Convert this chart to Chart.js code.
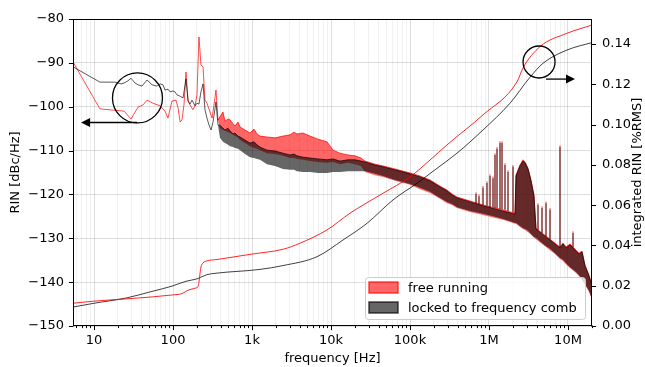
<!DOCTYPE html>
<html>
<head>
<meta charset="utf-8">
<script src="https://cdn.jsdelivr.net/npm/chart.js@4.4.1/dist/chart.umd.min.js"></script>
<style>
  html, body { margin: 0; padding: 0; background: #fff; }
  #c { display: block; }
</style>
</head>
<body>
<canvas id="c" width="645" height="367"></canvas>
<script>
// ---------- data ----------
// free running spectrum (upper / lower edge of the noisy trace; lower = upper where the trace is a single line)
const redF = [5.42, 11.9, 24.0, 29.4, 36.1, 41.7, 46.9, 55.8, 68.5, 79.2, 86.4, 97.1, 109, 116, 123, 130, 138, 146, 155, 164, 179, 190, 201, 213, 226, 240, 254, 269, 294, 312, 330, 350, 371,
  393, 429, 455, 497, 527, 575, 609, 665, 705, 815, 943, 1060, 1157, 1263, 1548, 1955, 2469, 3027, 3401, 3712, 4422, 5423, 6845, 8900, 10600, 13000, 16420, 20130, 23970, 26940, 36060, 45520, 64570, 100000, 133800, 179200, 239700, 294000, 340100, 393400, 574800, 839800, 1.191e6, 1.504e6, 1.845e6, 2.134e6, 2.197e6, 2.468e6, 2.694e6, 2.856e6, 3.116e6, 3.401e6, 3.712e6, 3.934e6, 4.688e6, 5.268e6, 5.920e6, 6.845e6, 7.920e6, 8.644e6, 9.434e6, 1.060e7, 1.263e7, 1.378e7, 1.504e7, 1.641e7, 1.845e7, 2.013e7];
const redHi = [-89.8, -100.5, -101.0, -102.8, -100.1, -99.6, -98.5, -99.2, -99.8, -101.0, -102.6, -98.7, -98.5, -100.3, -103.5, -103.0, -99.4, -92.1, -98.5, -99.6, -100.7, -99.8, -97.3, -84.1, -90.5, -90.9, -98.5, -99.2, -101.2, -102.6, -99.6, -96.2, -103.0,
  -102.3, -101.2, -103.3, -102.8, -103.0, -103.9, -104.4, -103.5, -104.6, -105.3, -106.0, -105.1, -106.2, -106.7, -106.9, -107.1, -106.7, -106.4, -105.8, -106.2, -106.0, -106.7, -107.4, -108.0, -109.9, -110.6, -111.0, -111.2, -111.7, -112.4, -113.1, -113.5, -114.2, -115.1, -115.8, -116.7, -118.1, -119.0, -119.9, -120.6, -121.5, -122.4, -123.1, -123.5, -124.0, -124.2, -115.6, -113.3, -112.1, -112.6, -114.0, -116.7, -120.1, -127.7, -128.8, -129.5, -130.2, -131.1, -132.0, -131.1, -132.0, -131.3, -132.7, -133.4, -132.9, -136.1, -138.4, -140.6];
const redLo = [null, null, null, null, null, null, null, null, null, null, null, null, null, null, null, null, null, null, null, null, null, null, null, null, null, null, null, null, null, null, null, null, null,
  -104.9, -105.3, -105.5, -105.8, -106.0, -106.4, -106.7, -107.1, -107.6, -108.3, -109.0, -109.4, -109.6, -109.9, -110.6, -110.8, -111.2, -111.7, -111.7, -111.9, -112.1, -112.4, -112.6, -112.8, -112.6, -113.1, -112.8, -113.1, -113.5, -114.9, -115.6, -116.0, -116.9, -117.8, -118.8, -119.7, -121.0, -122.0, -122.4, -123.1, -124.0, -124.7, -125.4, -125.8, -126.3, -126.7, -126.7, -127.4, -127.9, -128.1, -128.6, -129.2, -129.9, -130.2, -131.3, -132.0, -132.7, -133.6, -134.7, -135.2, -135.9, -136.8, -137.9, -138.6, -139.5, -140.6, -142.2, -144.1];

// locked to frequency comb spectrum
const blackF = [5.42, 11.9, 18.4, 22.0, 24.0, 26.9, 29.4, 33.0, 36.1, 40.5, 46.9, 54.2, 62.7, 68.5, 74.7, 79.2, 86.4, 91.6, 100, 106, 112, 123, 134, 146, 155, 164, 174, 190, 201, 213, 226, 240, 254, 269, 286, 303, 321, 350, 371,
  393, 429, 455, 497, 527, 575, 609, 665, 705, 815, 943, 1060, 1157, 1263, 1548, 1955, 2469, 3027, 3401, 3712, 4422, 5423, 6845, 8900, 10600, 13000, 16420, 20130, 23970, 26940, 36060, 45520, 64570, 100000, 133800, 179200, 239700, 294000, 340100, 393400, 574800, 839800, 1.191e6, 1.504e6, 1.845e6, 2.134e6, 2.197e6, 2.468e6, 2.694e6, 2.856e6, 3.116e6, 3.401e6, 3.712e6, 3.934e6, 4.688e6, 5.268e6, 5.920e6, 6.845e6, 7.920e6, 8.644e6, 9.434e6, 1.060e7, 1.263e7, 1.378e7, 1.504e7, 1.641e7, 1.845e7, 2.013e7];
const blackHi = [-90.9, -94.4, -94.4, -94.8, -94.6, -94.1, -93.5, -94.6, -95.0, -95.3, -93.9, -95.0, -95.3, -94.8, -95.0, -96.2, -96.0, -96.6, -96.4, -96.6, -97.3, -97.6, -98.0, -93.7, -98.7, -99.4, -98.5, -99.8, -99.2, -99.4, -96.6, -94.8, -100.7, -102.6, -104.2, -105.3, -103.5, -98.9, -104.2,
  -104.2, -104.9, -105.3, -104.9, -105.5, -106.2, -106.0, -106.7, -106.9, -107.6, -108.3, -108.0, -108.7, -109.2, -109.9, -110.1, -110.6, -111.0, -110.8, -111.2, -111.5, -111.7, -111.9, -112.1, -111.9, -112.4, -112.1, -112.1, -112.4, -112.6, -113.3, -113.7, -114.4, -115.3, -116.0, -116.9, -118.3, -119.2, -120.1, -120.8, -121.7, -122.6, -123.3, -123.8, -124.2, -124.5, -115.8, -113.5, -112.4, -112.8, -114.2, -116.9, -120.4, -127.9, -129.0, -129.7, -130.4, -131.3, -132.2, -131.3, -132.2, -131.5, -132.9, -133.6, -133.1, -136.3, -138.6, -140.9];
const blackLo = [null, null, null, null, null, null, null, null, null, null, null, null, null, null, null, null, null, null, null, null, null, null, null, null, null, null, null, null, null, null, null, null, null, null, null, null, null, null, null,
  -107.1, -108.0, -108.3, -108.7, -109.0, -109.2, -109.4, -109.6, -109.9, -110.8, -111.5, -111.7, -111.9, -112.1, -113.1, -113.5, -114.2, -114.4, -114.4, -114.7, -114.9, -114.9, -115.1, -115.1, -114.9, -114.9, -114.7, -114.7, -114.7, -114.7, -115.3, -115.8, -116.7, -117.6, -118.5, -119.4, -120.8, -121.7, -122.2, -122.9, -123.8, -124.4, -125.1, -125.6, -126.1, -126.5, -126.5, -127.2, -127.7, -127.9, -128.3, -129.0, -129.7, -129.9, -131.1, -131.8, -132.4, -133.4, -134.5, -134.9, -135.7, -136.6, -137.7, -138.4, -139.3, -140.4, -142.0, -143.8];

// narrow spurs in the MHz range
const spikeF = [6.845e5, 7.47e5, 8.398e5, 9.435e5, 1.030e6, 1.124e6, 1.191e6, 1.263e6, 1.378e6, 1.461e6, 1.594e6, 1.740e6, 2.013e6, 4.172e6, 4.688e6, 5.268e6, 5.920e6, 7.920e6, 1.157e7];
const spikeBase = [-122.0, -122.2, -122.4, -122.6, -122.9, -122.9, -123.1, -123.1, -123.3, -123.3, -123.5, -123.8, -124.0, -128.1, -128.8, -129.5, -130.2, -132.0, -132.0];
const redSpike = [-119.5, -120.0, -118.1, -117.0, -115.4, -115.9, -110.6, -109.2, -107.9, -107.9, -112.9, -114.5, -113.3, -122.0, -122.7, -121.6, -123.1, -108.8, -128.4];
const blackSpike = [-119.9, -120.4, -118.5, -117.4, -115.8, -116.3, -111.0, -109.6, -108.3, -108.3, -113.3, -114.9, -113.7, -122.4, -123.1, -122.0, -123.5, -109.2, -128.8];

// integrated RIN [%RMS] (right axis)
const intRedF = [5.42, 9.70, 31.2, 97.1, 130, 146, 164, 196, 207, 213, 220, 226, 240, 269, 360, 1000, 2469, 4050, 8900, 17400, 45520, 100000, 179200, 294000, 839800, 2.262e6, 2.694e6, 4.423e6, 9.713e6, 2.013e7];
const intRed = [0.0113, 0.0123, 0.0137, 0.0154, 0.0161, 0.0172, 0.0181, 0.0189, 0.0196, 0.0218, 0.0263, 0.0293, 0.0313, 0.0323, 0.0330, 0.0357, 0.0381, 0.0411, 0.0477, 0.0560, 0.0659, 0.0740, 0.0824, 0.0899, 0.1048, 0.1212, 0.1281, 0.1387, 0.1453, 0.1494];
const intBlackF = [5.42, 9.70, 26.2, 55.8, 97.1, 146, 201, 269, 350, 1263, 2469, 6650, 14200, 28600, 61000, 123000, 220000, 393400, 839800, 1.845e6, 3.304e6, 4.83e6, 9.713e6, 2.013e7];
const intBlack = [0.0094, 0.0112, 0.0140, 0.0173, 0.0198, 0.0222, 0.0234, 0.0255, 0.0262, 0.0281, 0.0300, 0.0344, 0.0427, 0.0510, 0.0626, 0.0709, 0.0783, 0.0858, 0.0973, 0.1106, 0.1235, 0.1304, 0.1370, 0.1407];

// axes
const xMin = 5.42, xMax = 2.013e7;
const xTickVals = [10, 100, 1000, 1e4, 1e5, 1e6, 1e7];
const xTickLabels = ['10', '100', '1k', '10k', '100k', '1M', '10M'];
const yTicks = [-150, -140, -130, -120, -110, -100, -90, -80];
const y2Max = 0.1524;
const y2Ticks = [0, 0.02, 0.04, 0.06, 0.08, 0.10, 0.12, 0.14];

const seriesLabels = ['free running', 'locked to frequency comb'];

// annotations (data coordinates)
const annoCircles = [{ f: 35.5, db: -98.0, r: 25 }, { f: 4.30e6, db: -89.8, r: 16 }];
const annoArrows = [{ f0: 35, f1: 6.85, db: -103.6 }, { f0: 5.27e6, f1: 1.227e7, db: -93.7 }];

// ---------- build ----------
const pts = (F, Y, fallback) => F.map((f, i) => ({ x: f, y: (Y[i] === null && fallback) ? fallback[i] : Y[i] }));
const spikePts = (top) => spikeF.flatMap((f, i) => [{ x: f, y: spikeBase[i] }, { x: f, y: top[i] }, { x: f, y: null }]);

const RED_FILL = 'rgba(255,0,0,0.6)';
const RED_LINE = 'rgba(255,0,0,0.7)';
const BLK_FILL = 'rgba(0,0,0,0.6)';
const BLK_LINE = 'rgba(0,0,0,0.65)';

const FONT = '"DejaVu Sans", "Liberation Sans", sans-serif';
Chart.defaults.font.family = FONT;
Chart.defaults.font.size = 13;
Chart.defaults.color = '#000';

const common = { pointRadius: 0, pointHoverRadius: 0, tension: 0, borderJoinStyle: 'round', spanGaps: false };

const datasets = [
  { ...common, label: 'int free', data: pts(intRedF, intRed), yAxisID: 'y2', borderColor: 'rgba(255,0,0,0.85)', borderWidth: 1, cubicInterpolationMode: 'monotone', fill: false, order: 0 },
  { ...common, label: 'int locked', data: pts(intBlackF, intBlack), yAxisID: 'y2', borderColor: 'rgba(0,0,0,0.75)', borderWidth: 1, cubicInterpolationMode: 'monotone', fill: false, order: 0 },
  { ...common, label: 'spurs locked', data: spikePts(blackSpike), yAxisID: 'y', borderColor: BLK_FILL, borderWidth: 1.2, fill: false, order: 1 },
  { ...common, label: seriesLabels[1], data: pts(blackF, blackHi), yAxisID: 'y', borderColor: BLK_LINE, borderWidth: 1, backgroundColor: BLK_FILL, fill: '+1', order: 2 },
  { ...common, label: 'locked lo', data: pts(blackF, blackLo, blackHi), yAxisID: 'y', borderWidth: 0, borderColor: 'rgba(0,0,0,0)', fill: false, order: 2 },
  { ...common, label: 'spurs free', data: spikePts(redSpike), yAxisID: 'y', borderColor: RED_FILL, borderWidth: 1.2, fill: false, order: 3 },
  { ...common, label: seriesLabels[0], data: pts(redF, redHi), yAxisID: 'y', borderColor: RED_LINE, borderWidth: 1, backgroundColor: RED_FILL, fill: '+1', order: 4 },
  { ...common, label: 'free lo', data: pts(redF, redLo, redHi), yAxisID: 'y', borderWidth: 0, borderColor: 'rgba(255,0,0,0)', fill: false, order: 4 }
];

const legendItems = [
  { label: seriesLabels[0], fill: RED_FILL, stroke: 'rgba(255,0,0,0.7)' },
  { label: seriesLabels[1], fill: BLK_FILL, stroke: 'rgba(0,0,0,0.7)' }
];

const overlay = {
  id: 'overlay',
  afterDatasetsDraw(chart) {
    const { ctx, chartArea: a, scales } = chart;
    const sx = scales.x, sy = scales.y, sy2 = scales.y2;
    ctx.save();

    // annotations
    ctx.strokeStyle = '#000';
    ctx.fillStyle = '#000';
    ctx.lineWidth = 1.3;
    annoCircles.forEach(c => {
      ctx.beginPath();
      ctx.arc(sx.getPixelForValue(c.f), sy.getPixelForValue(c.db), c.r, 0, Math.PI * 2);
      ctx.stroke();
    });
    annoArrows.forEach(ar => {
      const p0 = sx.getPixelForValue(ar.f0), p1 = sx.getPixelForValue(ar.f1), py = sy.getPixelForValue(ar.db);
      const d = Math.sign(p1 - p0), hl = 9, hw = 4.5;
      ctx.beginPath(); ctx.moveTo(p0, py); ctx.lineTo(p1 - d * hl, py); ctx.stroke();
      ctx.beginPath(); ctx.moveTo(p1, py); ctx.lineTo(p1 - d * hl, py - hw); ctx.lineTo(p1 - d * hl, py + hw); ctx.closePath(); ctx.fill();
    });

    // legend
    const lw = 220, lh = 42;
    const lx = a.right - 7 - lw, ly = a.bottom - 7 - lh;
    ctx.beginPath();
    ctx.roundRect(lx + 0.5, ly + 0.5, lw, lh, 3);
    ctx.fillStyle = 'rgba(255,255,255,0.8)';
    ctx.fill();
    ctx.strokeStyle = '#cccccc';
    ctx.lineWidth = 1;
    ctx.stroke();
    ctx.font = '13px ' + FONT;
    ctx.textBaseline = 'middle';
    ctx.textAlign = 'left';
    legendItems.forEach((it, i) => {
      const cy = ly + 10.5 + i * 20;
      ctx.fillStyle = it.fill;
      ctx.fillRect(lx + 4, cy - 5.5, 29, 11);
      ctx.strokeStyle = it.stroke;
      ctx.lineWidth = 1.5;
      ctx.strokeRect(lx + 4, cy - 5.5, 29, 11);
      ctx.fillStyle = '#000';
      ctx.fillText(it.label, lx + 43, cy + 1);
    });

    // frame (spines)
    ctx.strokeStyle = '#000';
    ctx.lineWidth = 1;
    const L = Math.round(a.left) + 0.5, R = Math.round(a.right) - 0.5, T = Math.round(a.top) + 0.5, B = Math.round(a.bottom) - 0.5;
    ctx.strokeRect(L, T, R - L, B - T);

    // tick marks
    ctx.lineWidth = 1;
    ctx.beginPath();
    sx.ticks.forEach(t => {
      const px = Math.round(sx.getPixelForValue(t.value)) + 0.5;
      const len = xTickVals.includes(t.value) ? 4.6 : 2.6;
      ctx.moveTo(px, B); ctx.lineTo(px, B + len);
    });
    sy.ticks.forEach(t => {
      const py = Math.round(sy.getPixelForValue(t.value)) + 0.5;
      ctx.moveTo(L, py); ctx.lineTo(L - 4.6, py);
    });
    sy2.ticks.forEach(t => {
      const py = Math.round(sy2.getPixelForValue(t.value)) + 0.5;
      ctx.moveTo(R, py); ctx.lineTo(R + 4.6, py);
    });
    ctx.stroke();

    // right axis title (reads bottom to top)
    ctx.save();
    ctx.translate(638, (a.top + a.bottom) / 2);
    ctx.rotate(-Math.PI / 2);
    ctx.textAlign = 'center';
    ctx.textBaseline = 'middle';
    ctx.fillStyle = '#000';
    ctx.font = '13px ' + FONT;
    ctx.fillText('integrated RIN [%RMS]', 0, 0);
    ctx.restore();

    ctx.restore();
  }
};

new Chart(document.getElementById('c'), {
  type: 'line',
  data: { datasets },
  options: {
    responsive: false,
    animation: false,
    devicePixelRatio: 1,
    events: [],
    layout: { padding: { top: 19, left: 0, right: 0, bottom: 0 } },
    plugins: { legend: { display: false }, tooltip: { enabled: false } },
    scales: {
      x: {
        type: 'logarithmic',
        position: 'bottom',
        min: xMin, max: xMax,
        afterBuildTicks: (scale) => {
          const t = [];
          for (let e = 0; e <= 7; e++) for (let m = 1; m <= 9; m++) {
            const v = m * Math.pow(10, e);
            if (v >= scale.min && v <= scale.max) t.push({ value: v });
          }
          scale.ticks = t;
        },
        afterFit: (scale) => { scale.height = 41; },
        ticks: {
          autoSkip: false, maxRotation: 0, minRotation: 0, padding: 7,
          font: { size: 13 }, color: '#000',
          callback: (v) => { const i = xTickVals.indexOf(v); return i >= 0 ? xTickLabels[i] : ''; }
        },
        grid: {
          drawTicks: false,
          color: (ctx) => (ctx.tick && xTickVals.includes(ctx.tick.value)) ? 'rgba(0,0,0,0.13)' : 'rgba(0,0,0,0.055)',
          lineWidth: 1
        },
        border: { display: false },
        title: { display: true, text: 'frequency [Hz]', font: { size: 13 }, color: '#000', padding: { top: 0, bottom: 1 } }
      },
      y: {
        type: 'linear',
        position: 'left',
        min: -150, max: -80,
        afterBuildTicks: (scale) => { scale.ticks = yTicks.map(v => ({ value: v })); },
        afterFit: (scale) => { scale.width = 73; },
        ticks: {
          padding: 9, font: { size: 13 }, color: '#000',
          callback: (v) => String(v).replace('-', '\u2212')
        },
        grid: { drawTicks: false, color: 'rgba(0,0,0,0.13)', lineWidth: 1 },
        border: { display: false },
        title: { display: true, text: 'RIN [dBc/Hz]', font: { size: 13 }, color: '#000', padding: { top: 8, bottom: 0 } }
      },
      y2: {
        type: 'linear',
        position: 'right',
        min: 0, max: y2Max,
        afterBuildTicks: (scale) => { scale.ticks = y2Ticks.map(v => ({ value: v })); },
        afterFit: (scale) => { scale.width = 53; },
        ticks: {
          padding: 10, font: { size: 13 }, color: '#000',
          callback: (v) => v.toFixed(2)
        },
        grid: { drawTicks: false, drawOnChartArea: false },
        border: { display: false }
      }
    }
  },
  plugins: [overlay]
});
</script>
</body>
</html>
